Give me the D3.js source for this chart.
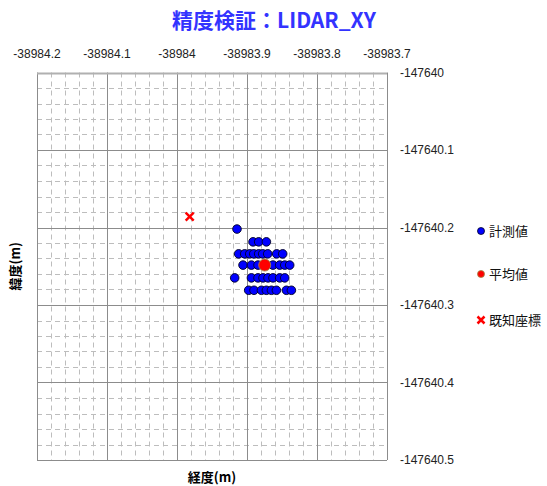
<!DOCTYPE html>
<html>
<head>
<meta charset="utf-8">
<script src="https://cdn.jsdelivr.net/npm/d3@7"></script>
<style>
  body { margin: 0; background: #fff; }
  svg { display: block; font-family: "Liberation Sans", "Noto Sans CJK JP", sans-serif; }
</style>
</head>
<body>
<div id="chart"></div>
<script>
// --- Data ---
const xTicks = [-38984.2, -38984.1, -38984.0, -38983.9, -38983.8, -38983.7];
const yTicks = [-147640.0, -147640.1, -147640.2, -147640.3, -147640.4, -147640.5];
const xTickLabels = ["-38984.2", "-38984.1", "-38984", "-38983.9", "-38983.8", "-38983.7"];
const yTickLabels = ["-147640", "-147640.1", "-147640.2", "-147640.3", "-147640.4", "-147640.5"];

// measured points (x = 経度, y = 緯度)
const measuredX = [
  -38983.9143,
  -38983.8914, -38983.8833, -38983.8723,
  -38983.9119, -38983.9033, -38983.8961, -38983.8904, -38983.8833, -38983.8776, -38983.8704, -38983.8576, -38983.8490,
  -38983.9057, -38983.8937, -38983.8843, -38983.8747, -38983.8629, -38983.8533, -38983.8461, -38983.8390,
  -38983.9176, -38983.8937, -38983.8843, -38983.8771, -38983.8700, -38983.8629, -38983.8533, -38983.8461,
  -38983.8976, -38983.8900, -38983.8794, -38983.8723, -38983.8651, -38983.8580, -38983.8437, -38983.8366
];
const measuredY = [
  -147640.202,
  -147640.2185, -147640.2185, -147640.2185,
  -147640.234, -147640.234, -147640.234, -147640.234, -147640.234, -147640.234, -147640.234, -147640.234, -147640.234,
  -147640.2485, -147640.2485, -147640.2485, -147640.2485, -147640.2485, -147640.2485, -147640.2485, -147640.2485,
  -147640.265, -147640.265, -147640.265, -147640.265, -147640.265, -147640.265, -147640.265, -147640.265,
  -147640.281, -147640.281, -147640.281, -147640.281, -147640.281, -147640.281, -147640.281, -147640.281
];
const meanPoint = [-38983.8747, -147640.2485];
const knownPoint = [-38983.9819, -147640.186];

const legendLabels = ["計測値", "平均値", "既知座標"];

// --- Layout ---
const width = 547, height = 486;
const plot = { left: 37, right: 387, top: 72.5, bottom: 460 };

const svg = d3.select("#chart").append("svg")
  .attr("width", width)
  .attr("height", height);

const x = d3.scaleLinear().domain([-38984.2, -38983.7]).range([plot.left, plot.right]);
const y = d3.scaleLinear().domain([-147640.0, -147640.5]).range([plot.top, plot.bottom]);

// minor grid (dashed)
const minorX = d3.range(0, 26).map(i => -38984.2 + i * 0.02);
const minorY = d3.range(0, 26).map(i => -147640.0 - i * 0.02);
const grid = svg.append("g");
grid.selectAll("line.mx").data(minorX.filter((d, i) => i % 5 !== 0)).join("line")
  .attr("x1", d => Math.round(x(d)) + 0.5).attr("x2", d => Math.round(x(d)) + 0.5)
  .attr("y1", plot.top).attr("y2", plot.bottom)
  .attr("stroke", "#bdbdbd").attr("stroke-dasharray", "5,4");
grid.selectAll("line.my").data(minorY.filter((d, i) => i % 5 !== 0)).join("line")
  .attr("y1", d => Math.round(y(d)) + 0.5).attr("y2", d => Math.round(y(d)) + 0.5)
  .attr("x1", plot.left).attr("x2", plot.right)
  .attr("stroke", "#bdbdbd").attr("stroke-dasharray", "5,4");

// major grid (solid)
grid.selectAll("line.Mx").data(xTicks).join("line")
  .attr("x1", d => Math.round(x(d)) + 0.5).attr("x2", d => Math.round(x(d)) + 0.5)
  .attr("y1", plot.top).attr("y2", plot.bottom)
  .attr("stroke", "#8c8c8c");
svg.append("g").selectAll("line").data(yTicks).join("line")
  .attr("y1", d => Math.round(y(d)) + 0.5).attr("y2", d => Math.round(y(d)) + 0.5)
  .attr("x1", plot.left).attr("x2", plot.right)
  .attr("stroke", "#8c8c8c");
svg.append("line")
  .attr("x1", plot.left).attr("x2", plot.right)
  .attr("y1", Math.round(plot.top) + 0.5).attr("y2", Math.round(plot.top) + 0.5)
  .attr("stroke", "#b0b0b0").attr("stroke-width", 2);

// tick labels
svg.append("g").selectAll("text").data(xTicks).join("text")
  .attr("x", d => x(d)).attr("y", 58)
  .attr("text-anchor", "middle")
  .attr("font-size", 12).attr("fill", "#222")
  .text((d, i) => xTickLabels[i]);
svg.append("g").selectAll("text").data(yTicks).join("text")
  .attr("x", 400).attr("y", d => y(d) + 4)
  .attr("font-size", 12).attr("fill", "#222")
  .text((d, i) => yTickLabels[i]);

// measured points
const pts = measuredX.map((d, i) => [d, measuredY[i]]);
svg.append("g").selectAll("circle").data(pts).join("circle")
  .attr("cx", d => x(d[0])).attr("cy", d => y(d[1]))
  .attr("r", 4.3)
  .attr("fill", "#0000ff").attr("stroke", "#000020").attr("stroke-width", 0.9);

// mean
svg.append("circle")
  .attr("cx", x(meanPoint[0])).attr("cy", y(meanPoint[1]))
  .attr("r", 6)
  .attr("fill", "#ff0000").attr("stroke", "#a08848").attr("stroke-width", 0.9);

// known point (cross)
const cross = (g, cx, cy, s) => {
  g.append("path")
    .attr("d", `M${cx - s},${cy - s}L${cx + s},${cy + s}M${cx - s},${cy + s}L${cx + s},${cy - s}`)
    .attr("stroke", "#ff0000").attr("stroke-width", 2.5);
};
cross(svg, x(knownPoint[0]), y(knownPoint[1]), 4);

// title
svg.append("text")
  .attr("x", 274).attr("y", 28)
  .attr("text-anchor", "middle")
  .attr("font-size", 21).attr("font-weight", "bold")
  .attr("fill", "#3333ff")
  .style("font-family", "'Noto Sans CJK JP', sans-serif")
  .text("精度検証：LIDAR_XY");

// axis titles
svg.append("text")
  .attr("x", (plot.left + plot.right) / 2).attr("y", 482)
  .attr("text-anchor", "middle")
  .attr("font-size", 13).attr("font-weight", "bold")
  .style("font-family", "'Noto Sans CJK JP', sans-serif")
  .text("経度(m)");
svg.append("text")
  .attr("transform", `translate(20,${(plot.top + plot.bottom) / 2}) rotate(-90)`)
  .attr("text-anchor", "middle")
  .attr("font-size", 13).attr("font-weight", "bold")
  .style("font-family", "'Noto Sans CJK JP', sans-serif")
  .text("緯度(m)");

// legend
const legend = svg.append("g").style("font-family", "'Noto Sans CJK JP', sans-serif");
const legendY = [231, 274, 320];
legend.append("circle").attr("cx", 481).attr("cy", legendY[0]).attr("r", 3.5)
  .attr("fill", "#0000ff").attr("stroke", "#000020").attr("stroke-width", 0.8);
legend.append("circle").attr("cx", 481).attr("cy", legendY[1]).attr("r", 3.5)
  .attr("fill", "#ff0000").attr("stroke", "#a08848").attr("stroke-width", 0.8);
cross(legend, 481, legendY[2], 3.5);
legend.selectAll("text").data(legendLabels).join("text")
  .attr("x", 489).attr("y", (d, i) => legendY[i] + 5)
  .attr("font-size", 13).attr("fill", "#111")
  .text(d => d);
</script>
</body>
</html>
